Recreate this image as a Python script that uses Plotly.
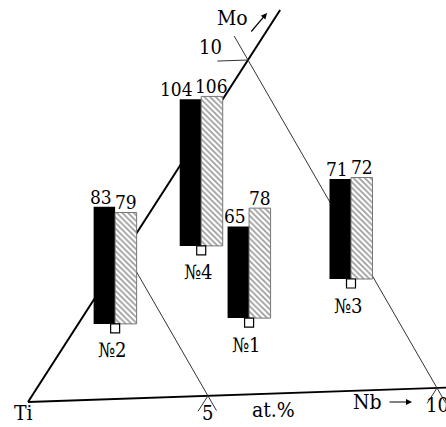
import numpy as np
import plotly.graph_objects as go

# ---------------- data ----------------
alloys = ["№1", "№2", "№3", "№4"]
black_vals = [65, 83, 71, 104]
hatch_vals = [78, 79, 72, 106]
nb_at = [4.83, 1.13, 6.58, 2.15]   # at.% Nb
mo_at = [2.44, 2.40, 3.65, 4.95]   # at.% Mo
grid_ticks = [5, 10]
tick_labels = ["5", "10"]

# ---------------- layout constants ----------------
W, H = 446, 427
ORIGIN = np.array([28.0, 25.0])
E_NB = np.array([409.0, 14.0])
E_MO = np.array([220.0, 342.0])
CAL_AT = [0, 5, 10]
CAL_FR = [0, 0.44, 1.0]
BAR_W = 21.5
K = 1.41
SQ = 9
FONT = "DejaVu Serif Condensed, DejaVu Serif"


def frac(v):
    return float(np.interp(v, CAL_AT, CAL_FR))


def pt(fn, fm):
    p = ORIGIN + fn * E_NB + fm * E_MO
    return float(p[0]), float(p[1])


shapes = []


def seg(a, b, width, color):
    shapes.append(dict(type="line", xref="x", yref="y", x0=a[0], y0=a[1],
                       x1=b[0], y1=b[1], layer="below",
                       line=dict(color=color, width=width)))


seg(pt(0, 0), pt(1.06, 0), 1.8, "black")
seg(pt(0, 0), pt(0, 1.146), 2.0, "black")

ext = 0.045
for t in grid_ticks:
    f = frac(t)
    top_ext = 0.073 if t == 10 else 0.0
    seg(pt(-top_ext, f + top_ext), pt(f + ext, -ext), 1.0, "#333")
    seg(pt(f, 0), pt(f, -ext), 1.0, "#333")
seg(pt(-0.075, 1.0), pt(0, 1.0), 1.0, "#333")

fig = go.Figure()

bx, bbase, sx, sy = [], [], [], []
for n, m in zip(nb_at, mo_at):
    x, y = pt(frac(n), frac(m))
    bx.append(x)
    sx.append(x)
    sy.append(y)
    bbase.append(y + SQ / 2)

fig.add_trace(go.Bar(
    x=[x - BAR_W / 2 for x in bx], y=[v * K for v in black_vals], base=bbase,
    width=BAR_W, marker=dict(color="black", line=dict(width=0)),
    hoverinfo="skip"))
fig.add_trace(go.Bar(
    x=[x + BAR_W / 2 for x in bx], y=[v * K for v in hatch_vals], base=bbase,
    width=BAR_W,
    marker=dict(color="white",
                pattern=dict(shape="\\", size=4, solidity=0.4,
                             fgcolor="#333", bgcolor="white"),
                line=dict(color="#777", width=1)),
    hoverinfo="skip"))
fig.add_trace(go.Scatter(
    x=sx, y=sy, mode="markers",
    marker=dict(symbol="square", size=SQ, color="white",
                line=dict(color="black", width=1.2)),
    hoverinfo="skip"))

VS = 19
ann = []
for i, name in enumerate(alloys):
    tb, th = str(black_vals[i]), str(hatch_vals[i])
    wtxt = 0.57 * VS * len(tb)
    shift = -(wtxt - BAR_W) - 3 if wtxt > BAR_W else 0
    ann.append(dict(x=bx[i] - BAR_W / 2, y=bbase[i] + black_vals[i] * K,
                    text=tb, xanchor="center", yanchor="bottom",
                    xshift=shift, yshift=-3, showarrow=False,
                    font=dict(size=VS)))
    ann.append(dict(x=bx[i] + BAR_W / 2, y=bbase[i] + hatch_vals[i] * K,
                    text=th, xanchor="center", yanchor="bottom",
                    yshift=-3, showarrow=False, font=dict(size=VS)))
    ann.append(dict(x=sx[i], y=sy[i], text=name, xanchor="center",
                    yanchor="middle", xshift=-3, yshift=-22, showarrow=False,
                    font=dict(size=20)))

for t, lab in zip(grid_ticks, tick_labels):
    x, y = pt(frac(t), 0)
    ann.append(dict(x=x, y=y, text=lab, xanchor="center", yanchor="middle",
                    yshift=-17, showarrow=False, font=dict(size=20)))
x, y = pt(0, 1.0)
ann.append(dict(x=x, y=y, text="10", xanchor="center", yanchor="middle",
                xshift=-38, yshift=13, showarrow=False, font=dict(size=20)))

ann += [
    dict(x=23, y=H - 413, text="Ti", showarrow=False, font=dict(size=21)),
    dict(x=273, y=H - 410, text="at.%", showarrow=False, font=dict(size=21)),
    dict(x=367, y=H - 402, text="Nb", showarrow=False, font=dict(size=21)),
    dict(x=232, y=H - 18, text="Mo", showarrow=False, font=dict(size=21)),
    dict(x=412, y=H - 402, ax=388, ay=H - 402, axref="x", ayref="y",
         text="", showarrow=True, arrowhead=2, arrowsize=1, arrowwidth=1.2,
         arrowcolor="black"),
    dict(x=267, y=H - 13, ax=250, ay=H - 33, axref="x", ayref="y",
         text="", showarrow=True, arrowhead=2, arrowsize=1, arrowwidth=1.2,
         arrowcolor="black"),
]
for a in ann:
    f = dict(a.get("font", dict(size=20)))
    f.setdefault("family", FONT)
    f["color"] = "black"
    a["font"] = f

fig.update_layout(
    width=W, height=H, margin=dict(l=0, r=0, t=0, b=0),
    paper_bgcolor="white", plot_bgcolor="white", showlegend=False,
    barmode="overlay", font=dict(family=FONT),
    xaxis=dict(range=[0, W], visible=False, fixedrange=True),
    yaxis=dict(range=[0, H], visible=False, fixedrange=True),
    shapes=shapes, annotations=ann,
)
fig.write_html("out.html", config={"displayModeBar": False},
               post_script="document.body.style.margin='0';"
                           "document.body.style.padding='0';")
